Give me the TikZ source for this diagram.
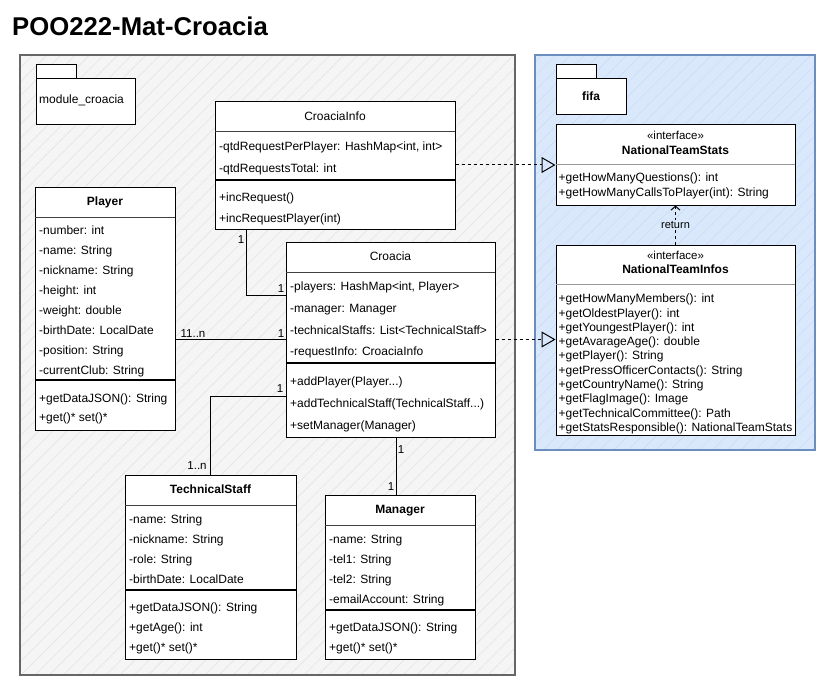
\documentclass[tikz,border=0pt]{standalone}
\usepackage{fontspec}
\setmainfont{Liberation Sans}
\usetikzlibrary{arrows.meta,patterns.meta,calc}
\definecolor{modfill}{HTML}{F5F5F5}
\definecolor{modhatch}{HTML}{E4E4E4}
\definecolor{modborder}{HTML}{666666}
\definecolor{fifafill}{HTML}{DAE8FC}
\definecolor{fifahatch}{HTML}{CBDCF4}
\definecolor{fifaborder}{HTML}{6C8EBF}
\definecolor{sepgray}{HTML}{999999}
\newcommand\umlrow[4]{\node[rowtext] (#1) at (#2,#3+4.5) {#4};}
\begin{document}
\begin{tikzpicture}[x=1pt,y=-1pt,
  txt/.style={font=\fontsize{12}{14}\selectfont, inner sep=0pt},
  rowtext/.style={txt, anchor=base west},
  ctitle/.style={txt, anchor=base},
  btitle/.style={txt, anchor=base, font=\fontsize{12}{14}\selectfont\bfseries},
  stereo/.style={txt, anchor=base, font=\fontsize{11.5}{13}\selectfont},
  cls/.style={draw=black, fill=white, line width=1pt, inner sep=0pt},
  hsep/.style={draw=black!75, line width=0.8pt},
  msep/.style={draw=black, line width=1.6pt},
  isep/.style={draw=sepgray, line width=0.8pt},
  assoc/.style={draw=black, line width=1pt},
  mult/.style={inner sep=0pt, font=\fontsize{11.5}{13}\selectfont},
  real/.style={draw=black, line width=1pt, dash pattern=on 3pt off 3pt, -{Triangle[open,length=14pt,width=16pt,line width=1pt]}},
  ret/.style={draw=black, line width=1pt, dash pattern=on 3pt off 3pt, -{Straight Barb[length=4pt,width=9pt,line width=1pt]}},
]
\useasboundingbox (0,0) rectangle (822,682);
\fill[white] (0,0) rectangle (822,682);

% title
\node[anchor=base west, inner sep=0pt, font=\fontsize{25.7}{29}\selectfont\bfseries] (title) at (12,36) {POO222-Mat-Croacia};

% containers
\fill[modfill] (20,55) rectangle (515,675);
\fill[pattern={Lines[angle=45,distance=10pt,line width=0.6pt]}, pattern color=modhatch] (20,55) rectangle (515,675);
\draw[modborder, line width=2pt] (20,55) rectangle (515,675);

\fill[fifafill] (535,55) rectangle (815,450);
\fill[pattern={Lines[angle=45,distance=10pt,line width=0.6pt]}, pattern color=fifahatch] (535,55) rectangle (815,450);
\draw[fifaborder, line width=2pt] (535,55) rectangle (815,450);

% packages
\draw[cls] (36,65) rectangle (76,79);
\node[cls, minimum width=99pt, minimum height=46pt] (pkgmod) at (85.5,102) {};
\node[txt, anchor=base west] (pkgmodlbl) at (39,103.5) {module\_croacia};

\draw[cls] (556,65) rectangle (596,79);
\node[cls, minimum width=70pt, minimum height=36pt] (pkgfifa) at (591,97) {};
\node[btitle] (pkgfifalbl) at (591,100.5) {fifa};

% ---------- CroaciaInfo
\node[cls, minimum width=240pt, minimum height=127pt] (cinfo) at (335,165.5) {};
\node[ctitle] (cinfo-t) at (335,120.5) {CroaciaInfo};
\draw[hsep] (215,131) -- (455,131);
\umlrow{cinfo-a1}{219}{146}{-qtdRequestPerPlayer: HashMap<int, int>}
\umlrow{cinfo-a2}{219}{168}{-qtdRequestsTotal: int}
\draw[msep] (215,180) -- (455,180);
\umlrow{cinfo-m1}{219}{197}{+incRequest()}
\umlrow{cinfo-m2}{219}{218}{+incRequestPlayer(int)}

% ---------- Player
\node[cls, minimum width=140pt, minimum height=243pt] (player) at (105,308.5) {};
\node[btitle] (player-t) at (105,205.5) {Player};
\draw[hsep] (35,217) -- (175,217);
\umlrow{player-a1}{39}{230}{-number: int}
\umlrow{player-a2}{39}{250}{-name: String}
\umlrow{player-a3}{39}{270}{-nickname: String}
\umlrow{player-a4}{39}{290}{-height: int}
\umlrow{player-a5}{39}{310}{-weight: double}
\umlrow{player-a6}{39}{330}{-birthDate: LocalDate}
\umlrow{player-a7}{39}{350}{-position: String}
\umlrow{player-a8}{39}{370}{-currentClub: String}
\draw[msep] (35,380) -- (175,380);
\umlrow{player-m1}{39}{398}{+getDataJSON(): String}
\umlrow{player-m2}{39}{417}{+get()* set()*}

% ---------- Croacia
\node[cls, minimum width=209pt, minimum height=195pt] (croacia) at (390.5,339.5) {};
\node[ctitle] (croacia-t) at (390.5,260.5) {Croacia};
\draw[hsep] (286,272) -- (495,272);
\umlrow{croacia-a1}{290}{286}{-players: HashMap<int, Player>}
\umlrow{croacia-a2}{290}{308}{-manager: Manager}
\umlrow{croacia-a3}{290}{330}{-technicalStaffs: List<TechnicalStaff>}
\umlrow{croacia-a4}{290}{351}{-requestInfo: CroaciaInfo}
\draw[msep] (286,363) -- (495,363);
\umlrow{croacia-m1}{290}{381}{+addPlayer(Player...)}
\umlrow{croacia-m2}{290}{403}{+addTechnicalStaff(TechnicalStaff...)}
\umlrow{croacia-m3}{290}{425}{+setManager(Manager)}

% ---------- TechnicalStaff
\node[cls, minimum width=171pt, minimum height=184pt] (ts) at (210.5,567) {};
\node[btitle] (ts-t) at (210.5,493.5) {TechnicalStaff};
\draw[hsep] (125,505) -- (296,505);
\umlrow{ts-a1}{129}{519}{-name: String}
\umlrow{ts-a2}{129}{539}{-nickname: String}
\umlrow{ts-a3}{129}{559}{-role: String}
\umlrow{ts-a4}{129}{579}{-birthDate: LocalDate}
\draw[msep] (125,590) -- (296,590);
\umlrow{ts-m1}{129}{607}{+getDataJSON(): String}
\umlrow{ts-m2}{129}{627}{+getAge(): int}
\umlrow{ts-m3}{129}{647}{+get()* set()*}

% ---------- Manager
\node[cls, minimum width=150pt, minimum height=164pt] (manager) at (400,577) {};
\node[btitle] (manager-t) at (400,513.5) {Manager};
\draw[hsep] (325,525) -- (475,525);
\umlrow{manager-a1}{329}{539}{-name: String}
\umlrow{manager-a2}{329}{559}{-tel1: String}
\umlrow{manager-a3}{329}{579}{-tel2: String}
\umlrow{manager-a4}{329}{599}{-emailAccount: String}
\draw[msep] (325,610) -- (475,610);
\umlrow{manager-m1}{329}{627}{+getDataJSON(): String}
\umlrow{manager-m2}{329}{647}{+get()* set()*}

% ---------- NationalTeamStats
\node[cls, minimum width=239pt, minimum height=80pt] (stats) at (675.5,165) {};
\node[stereo] (stats-s) at (675.5,140) {«interface»};
\node[btitle] (stats-t) at (675.5,154) {NationalTeamStats};
\draw[isep] (556,164) -- (795,164);
\umlrow{stats-m1}{558.5}{177}{+getHowManyQuestions(): int}
\umlrow{stats-m2}{558.5}{191.5}{+getHowManyCallsToPlayer(int): String}

% ---------- NationalTeamInfos
\node[cls, minimum width=239pt, minimum height=190pt] (infos) at (675.5,340) {};
\node[stereo] (infos-s) at (675.5,259.5) {«interface»};
\node[btitle] (infos-t) at (675.5,273.5) {NationalTeamInfos};
\draw[isep] (556,284) -- (795,284);
\umlrow{infos-m1}{558.5}{298.3}{+getHowManyMembers(): int}
\umlrow{infos-m2}{558.5}{312.6}{+getOldestPlayer(): int}
\umlrow{infos-m3}{558.5}{326.8}{+getYoungestPlayer(): int}
\umlrow{infos-m4}{558.5}{341.1}{+getAvarageAge(): double}
\umlrow{infos-m5}{558.5}{355.4}{+getPlayer(): String}
\umlrow{infos-m6}{558.5}{369.7}{+getPressOfficerContacts(): String}
\umlrow{infos-m7}{558.5}{383.9}{+getCountryName(): String}
\umlrow{infos-m8}{558.5}{398.2}{+getFlagImage(): Image}
\umlrow{infos-m9}{558.5}{412.5}{+getTechnicalCommittee(): Path}
\umlrow{infos-m10}{558.5}{426.7}{+getStatsResponsible(): NationalTeamStats}

% ---------- connectors
\coordinate (bend1) at (246,295);
\draw[assoc] (cinfo.south -| bend1) -- (bend1) -- (croacia.west |- bend1);
\draw[assoc] (croacia.west) -- (croacia.west -| player.east);
\coordinate (bend2) at (210.5,396);
\draw[assoc] (croacia.west |- bend2) -| (ts.north);
\coordinate (mline) at (396,466);
\draw[assoc] (croacia.south -| mline) -- (manager.north -| mline);

\draw[real] (stats.west -| cinfo.east) -- (stats.west);
\draw[real] (croacia.east) -- (croacia.east -| infos.west);

\draw[ret] (infos.north) -- node[fill=fifafill, inner sep=1pt, font=\fontsize{11}{13}\selectfont] (retlbl) {return} (stats.south);

% multiplicities
\node[mult] (m1) at (241,240) {1};
\node[mult] (m2) at (281,289) {1};
\node[mult] (m3) at (193,334) {11..n};
\node[mult] (m4) at (281,334) {1};
\node[mult] (m5) at (280,389) {1};
\node[mult] (m6) at (197,466) {1..n};
\node[mult] (m7) at (401,450) {1};
\node[mult] (m8) at (391,487) {1};
\end{tikzpicture}
\end{document}
